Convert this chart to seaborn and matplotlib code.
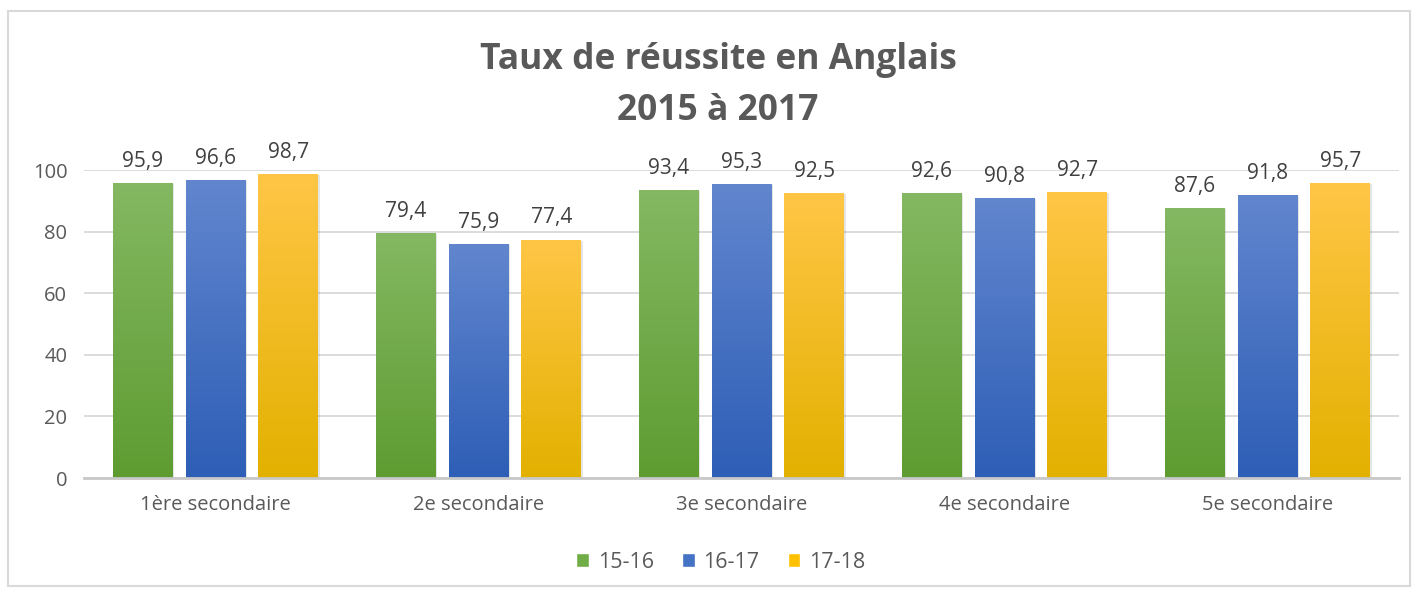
import numpy as np
import pandas as pd
import matplotlib
matplotlib.use("Agg")
import matplotlib.pyplot as plt
import seaborn as sns
from matplotlib.colors import LinearSegmentedColormap
from matplotlib.patches import Rectangle

categories = ["1ère secondaire", "2e secondaire", "3e secondaire", "4e secondaire", "5e secondaire"]
series_names = ["15-16", "16-17", "17-18"]
vals_1516 = [95.9, 79.4, 93.4, 92.6, 87.6]
vals_1617 = [96.6, 75.9, 95.3, 90.8, 91.8]
vals_1718 = [98.7, 77.4, 92.5, 92.7, 95.7]
yticks = [0, 20, 40, 60, 80, 100]

base_colors = ["#70AD47", "#4472C4", "#FFC000"]
grad_top = ["#84B862", "#6186CE", "#FFC646"]
grad_bot = ["#5E9C31", "#2E5EB6", "#E2B100"]

rows = []
for s, vals in zip(series_names, [vals_1516, vals_1617, vals_1718]):
    for c, v in zip(categories, vals):
        rows.append({"cat": c, "serie": s, "val": v})
df = pd.DataFrame(rows)

sns.set_theme(style="white")
plt.rcParams['font.family'] = ['Open Sans', 'DejaVu Sans']

fig = plt.figure(figsize=(14.19, 5.94), dpi=100)
fig.patch.set_facecolor("white")
ax = fig.add_axes([84/1419, 1-478/594, 1315/1419, (478-170)/594])

sns.barplot(data=df, x="cat", y="val", hue="serie", order=categories,
            hue_order=series_names, palette=base_colors, width=0.83, gap=0.18,
            ax=ax, legend=True, saturation=1)

ax.set_xlim(-0.5, 4.5)
ax.set_ylim(0, 100)
ax.set_yticks(yticks)
ax.set_yticklabels([str(t) for t in yticks])
ax.yaxis.grid(True, color="#D9D9D9", linewidth=1.3)
ax.set_axisbelow(True)
for sp in ["top", "right", "left"]:
    ax.spines[sp].set_visible(False)
ax.spines["bottom"].set_color("#C8C8C8")
ax.spines["bottom"].set_linewidth(2)
ax.tick_params(axis="y", length=0, labelsize=14.5, labelcolor="#595959", pad=12)
ax.tick_params(axis="x", length=0, labelsize=14.5, labelcolor="#595959", pad=12)
ax.set_xlabel("")
ax.set_ylabel("")

# gradients and labels
for i, cont in enumerate(ax.containers):
    cmap = LinearSegmentedColormap.from_list(f"g{i}", [grad_bot[i], grad_top[i]])
    for bar in cont:
        x0, w, h = bar.get_x(), bar.get_width(), bar.get_height()
        bar.set_edgecolor("none")
        sh = Rectangle((x0 + 0.006, 0), w, h - 0.3, facecolor="#000000", alpha=0.10,
                       edgecolor="none", zorder=bar.get_zorder() - 0.1)
        ax.add_patch(sh)
        grad = np.linspace(0, 1, 256).reshape(-1, 1)
        im = ax.imshow(grad, cmap=cmap, origin="lower", aspect="auto",
                       extent=[x0, x0 + w, 0, h], zorder=bar.get_zorder() + 0.1)
        im.set_clip_path(bar)
    labels = [f"{b.get_height():.1f}".replace(".", ",") for b in cont]
    ax.bar_label(cont, labels=labels, padding=8, fontsize=15, color="#404040")

ax.set_xlim(-0.5, 4.5)
ax.set_ylim(0, 100)

leg = ax.get_legend()
handles = leg.legend_handles
leg.remove()
fig.legend(handles, series_names, loc="center", bbox_to_anchor=(0.508, 1-562/594),
           ncol=3, frameon=False, fontsize=15.5, labelcolor="#595959",
           handlelength=0.6, handleheight=0.6, handletextpad=0.4, columnspacing=1.3)

fig.text(0.506, 1-60/594, "Taux de réussite en Anglais", ha="center", va="center",
         fontsize=25.5, fontweight="bold", color="#595959")
fig.text(0.506, 1-111/594, "2015 à 2017", ha="center", va="center",
         fontsize=25.5, fontweight="bold", color="#595959")

border = Rectangle((8/1419, 1-586/594), (1410-8)/1419, (586-11)/594,
                   transform=fig.transFigure, fill=False, edgecolor="#D9D9D9",
                   linewidth=1.5)
fig.patches.append(border)

fig.savefig("out.png", dpi=100)
